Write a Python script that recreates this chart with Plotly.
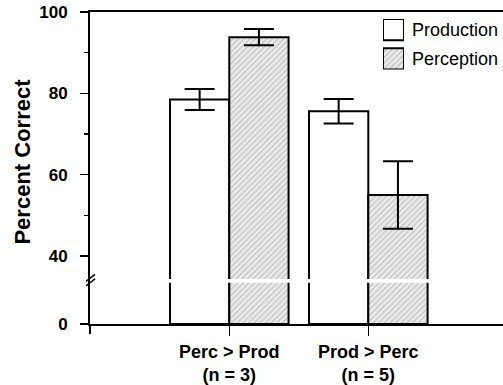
import plotly.graph_objects as go

# ---- data ----
groups = ["Perc > Prod<br>(n = 3)", "Prod > Perc<br>(n = 5)"]
production = [78.5, 75.6]
production_err = [2.6, 3.0]
perception = [93.8, 55.0]
perception_err = [2.0, 8.3]
tick_labels = ["0", "40", "60", "80", "100"]
tick_values = [0, 40, 60, 80, 100]
minor_values = [50, 70, 90]

# ---- broken axis mapping: value 0 drawn at ZERO_POS, >=40 linear ----
ZERO_POS = 23.3
BREAK_POS = 33.9


def axis_pos(v):
    return ZERO_POS if v == 0 else v


W, H = 503, 385
# plot area in pixels: x 90..503, y 12..327
PL, PR, PT, PB = 90, 503, 12, 327
L, R, T, B = PL, W - PR, PT, H - PB
PW, PH = PR - PL, PB - PT


def px(x):
    return (x - PL) / PW


def py(y):
    return (PB - y) / PH


FONT = "Liberation Sans, Arial, sans-serif"
HATCH = dict(shape="/", fgcolor="#9a9a9a", bgcolor="#ececec", size=4, solidity=0.35)

fig = go.Figure()

err_style = dict(type="data", color="black", thickness=2, width=15)

fig.add_trace(go.Bar(
    x=groups, y=[v - ZERO_POS for v in production], base=ZERO_POS,
    marker=dict(color="white", line=dict(color="black", width=2)),
    error_y=dict(array=production_err, **err_style),
    name="Production", showlegend=False,
))
fig.add_trace(go.Bar(
    x=groups, y=[v - ZERO_POS for v in perception], base=ZERO_POS,
    marker=dict(color="#ececec", line=dict(color="black", width=2), pattern=HATCH),
    error_y=dict(array=perception_err, **err_style),
    name="Perception", showlegend=False,
))

# legend swatches drawn as bars on a small auxiliary axis
fig.add_trace(go.Bar(
    x=[0], y=[1], base=[1.38], width=[1], offset=-0.5,
    marker=dict(color="white", line=dict(color="black", width=2)),
    xaxis="x2", yaxis="y2", showlegend=False, hoverinfo="skip",
))
fig.add_trace(go.Bar(
    x=[0], y=[1], base=[0], width=[1], offset=-0.5,
    marker=dict(color="#ececec", line=dict(color="black", width=2), pattern=HATCH),
    xaxis="x2", yaxis="y2", showlegend=False, hoverinfo="skip",
))

shapes = []
# white gap across the bars at the break
shapes.append(dict(type="rect", xref="x", yref="y", x0=-0.6, x1=1.6,
                   y0=BREAK_POS - 0.45, y1=BREAK_POS + 0.45,
                   fillcolor="white", line=dict(width=0), layer="above"))
# break marks on the y axis
shapes.append(dict(type="line", xref="paper", yref="paper",
                   x0=px(86), y0=py(284), x1=px(95), y1=py(277)),
              )
shapes.append(dict(type="line", xref="paper", yref="paper",
                   x0=px(86), y0=py(288.5), x1=px(95), y1=py(281.5)))
for s in shapes[-2:]:
    s["line"] = dict(color="black", width=1.6)
# y axis line extending below zero
shapes.append(dict(type="line", xref="paper", yref="paper",
                   x0=0, y0=0, x1=0, y1=py(337),
                   line=dict(color="black", width=2)))

annotations = [
    dict(text="<b>Percent Correct</b>", xref="paper", yref="paper",
         x=px(23), y=py(163), textangle=-90, showarrow=False,
         font=dict(family=FONT, size=22, color="black"),
         xanchor="center", yanchor="middle"),
    dict(text="Production", xref="paper", yref="paper",
         x=px(410), y=py(30), showarrow=False, xanchor="left", yanchor="middle",
         font=dict(family=FONT, size=18, color="black")),
    dict(text="Perception", xref="paper", yref="paper",
         x=px(410), y=py(59.5), showarrow=False, xanchor="left", yanchor="middle",
         font=dict(family=FONT, size=18, color="black")),
]

fig.update_layout(
    width=W, height=H,
    margin=dict(l=L, r=R, t=T, b=B, pad=0),
    paper_bgcolor="white", plot_bgcolor="white",
    barmode="group", bargap=0.147, bargroupgap=0,
    showlegend=False,
    shapes=shapes, annotations=annotations,
    font=dict(family=FONT, color="black"),
    xaxis=dict(
        range=[-1.002, 1.969], showline=True, linecolor="black", linewidth=2,
        mirror=True, ticks="outside", ticklen=10, tickwidth=1.5,
        tickcolor="black", showgrid=False, zeroline=False,
        tickfont=dict(family=FONT, size=18, color="black"),
        tickprefix="<b>", ticksuffix="</b>",
    ),
    yaxis=dict(
        range=[ZERO_POS, 100], showline=True, linecolor="black", linewidth=2,
        tickmode="array", tickvals=[axis_pos(v) for v in tick_values],
        ticktext=["<b>%s</b>" % t for t in tick_labels],
        ticks="outside", ticklen=8, tickwidth=1.5, tickcolor="black",
        minor=dict(tickmode="array", tickvals=minor_values, ticks="outside",
                   ticklen=4, tickwidth=1.5, tickcolor="black", showgrid=False),
        showgrid=False, zeroline=False, ticklabelstandoff=9,
        ticklabeloverflow="allow",
        tickfont=dict(family=FONT, size=17, color="black"),
    ),
    xaxis2=dict(domain=[px(383), px(404)], anchor="y2", range=[-0.5, 0.5],
                visible=False, fixedrange=True),
    yaxis2=dict(domain=[py(70), py(19)], anchor="x2", range=[0, 2.38],
                visible=False, fixedrange=True),
)

fig.write_html(
    "out.html",
    config={"displayModeBar": False, "staticPlot": True},
    post_script="document.body.style.margin='0';document.body.style.overflow='hidden';",
)
